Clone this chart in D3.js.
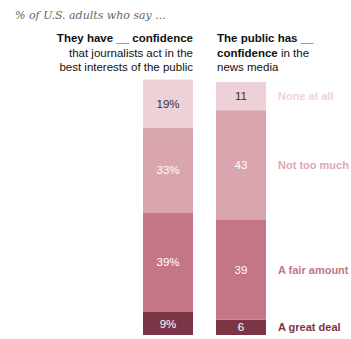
<!DOCTYPE html>
<html>
<head>
<meta charset="utf-8">
<script src="https://cdn.jsdelivr.net/npm/d3@7"></script>
<style>
  body { margin: 0; background: #fff; }
  svg { display: block; }
</style>
</head>
<body>
<div id="chart"></div>
<script>
// data
const categories = ["A great deal", "A fair amount", "Not too much", "None at all"];
const journalistsValues = [9, 39, 33, 19];
const mediaValues = [6, 39, 43, 11];
const barLabelSuffix = ["%", ""];
const headers = [
    [[{t: "They have __ confidence", b: true}], [{t: "that journalists act in the", b: false}], [{t: "best interests of the public", b: false}]],
    [[{t: "The public has __", b: true}], [{t: "confidence", b: true}, {t: " in the", b: false}], [{t: "news media", b: false}]]
];

const colors = ["#7b3547", "#c47586", "#d9a5ae", "#edd1d7"];
const labelColors = ["#7b3547", "#c47586", "#dba8b1", "#f0d3d9"];
const textColors = ["#fff", "#fff", "#fff", "#333"];

const svgWidth = 351, svgHeight = 339;
const svg = d3.select("#chart").append("svg")
    .attr("width", svgWidth)
    .attr("height", svgHeight);

// title
svg.append("text")
    .attr("x", 15)
    .attr("y", 19)
    .style("font-family", "'DejaVu Serif', Georgia, serif")
    .style("font-style", "italic")
    .style("font-size", "11px")
    .style("fill", "#666")
    .text("% of U.S. adults who say ...");

const x = d3.scaleBand().domain([0, 1]).range([143, 266]).paddingInner(23 / 73);
const y = d3.scaleLinear().domain([0, 100]).range([335, 79.5]);

const series = [journalistsValues, mediaValues];

series.forEach((vals, si) => {
    let acc = 0;
    const segs = vals.map((v, i) => {
        const s = {v: v, i: i, y0: acc, y1: acc + v};
        acc += v;
        return s;
    });
    const g = svg.append("g");
    g.selectAll("rect")
        .data(segs)
        .enter().append("rect")
        .attr("x", x(si))
        .attr("width", x.bandwidth())
        .attr("y", d => y(d.y1))
        .attr("height", d => y(d.y0) - y(d.y1))
        .attr("fill", d => colors[d.i]);
    g.selectAll("text")
        .data(segs)
        .enter().append("text")
        .attr("x", x(si) + x.bandwidth() / 2)
        .attr("y", d => (y(d.y0) + y(d.y1)) / 2 + 4)
        .attr("text-anchor", "middle")
        .style("font-family", "'Liberation Sans', Arial, sans-serif")
        .style("font-size", "11.5px")
        .style("fill", d => textColors[d.i])
        .text(d => d.v + barLabelSuffix[si]);

    // category labels next to the right bar
    if (si === 1) {
        g.selectAll(".cat")
            .data(segs)
            .enter().append("text")
            .attr("class", "cat")
            .attr("x", 278)
            .attr("y", d => (y(d.y0) + y(d.y1)) / 2 + 4)
            .style("font-family", "'Liberation Sans', Arial, sans-serif")
            .style("font-weight", "bold")
            .style("font-size", "11px")
            .style("fill", d => labelColors[d.i])
            .text(d => categories[d.i]);
    }
});

// column headers
headers.forEach((lines, si) => {
    const t = svg.append("text")
        .attr("text-anchor", si === 0 ? "end" : "start")
        .style("font-family", "'Liberation Sans', Arial, sans-serif")
        .style("font-size", "11.5px")
        .style("fill", "#111");
    lines.forEach((parts, li) => {
        parts.forEach((p, pi) => {
            const ts = t.append("tspan")
                .style("font-weight", p.b ? "bold" : "normal")
                .text(p.t);
            if (pi === 0) {
                ts.attr("x", si === 0 ? x(0) + x.bandwidth() : x(1) + 1)
                  .attr("y", 42 + li * 14.5);
            }
        });
    });
});
</script>
</body>
</html>
